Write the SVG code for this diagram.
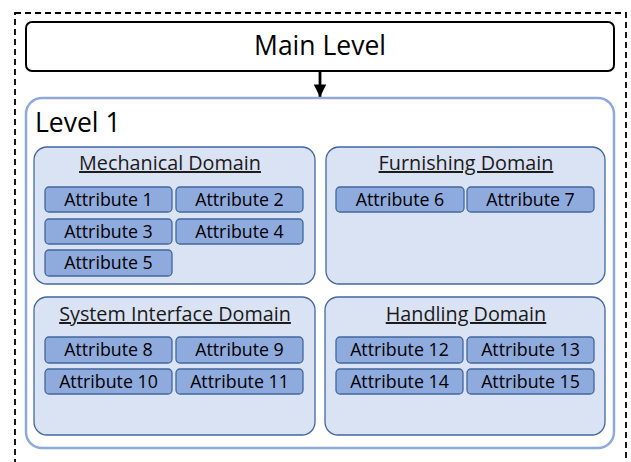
<svg xmlns="http://www.w3.org/2000/svg" width="631" height="462" viewBox="0 0 631 462">
<style>
text{font-family:"Open Sans","Liberation Sans",sans-serif;fill:#000}
.dom{fill:#dae3f3;stroke:#41679f;stroke-width:1.3}
.att{fill:#8faadc;stroke:#41679f;stroke-width:1.3}
.at{font-size:17.8px;text-anchor:middle}
.dt{font-size:19.8px;text-anchor:middle;text-decoration:underline;fill:#1a1a1a}
</style>
<defs>
<marker id="ah" viewBox="0 0 10 10" refX="10" refY="5" markerWidth="4.5" markerHeight="4.5" orient="auto" markerUnits="strokeWidth">
<path d="M0,0 L10,5 L0,10 z" fill="#000"/>
</marker>
</defs>
<rect x="15" y="13" width="611" height="470" fill="none" stroke="#000" stroke-width="1.8" stroke-dasharray="6,4"/>
<g id="main">
<rect x="26" y="22" width="588" height="49" rx="6" fill="#fff" stroke="#000" stroke-width="2"/>
<text x="320" y="55" font-size="26.5" text-anchor="middle">Main Level</text>
</g>
<g id="connectors">
<line x1="320" y1="71" x2="320" y2="97" stroke="#000" stroke-width="2.8" marker-end="url(#ah)"/>
</g>
<g id="level1">
<rect x="26" y="98" width="588" height="350" rx="16" fill="#fff" stroke="#8eaadb" stroke-width="2.5"/>
<text x="35" y="132" font-size="26.5">Level 1</text>
</g>
<g id="mech">
<rect class="dom" x="34" y="147" width="281" height="137" rx="13"/>
<text class="dt" x="170" y="170">Mechanical Domain</text>
</g>
<g id="a1"><rect class="att" x="45" y="187" width="127" height="25" rx="4"/><text class="at" x="108.5" y="206">Attribute 1</text></g>
<g id="a2"><rect class="att" x="176" y="187" width="127" height="25" rx="4"/><text class="at" x="239.5" y="206">Attribute 2</text></g>
<g id="a3"><rect class="att" x="45" y="219" width="127" height="25" rx="4"/><text class="at" x="108.5" y="238">Attribute 3</text></g>
<g id="a4"><rect class="att" x="176" y="219" width="127" height="25" rx="4"/><text class="at" x="239.5" y="238">Attribute 4</text></g>
<g id="a5"><rect class="att" x="45" y="250" width="127" height="26" rx="4"/><text class="at" x="108.5" y="269">Attribute 5</text></g>
<g id="furn">
<rect class="dom" x="326" y="147" width="279" height="137" rx="13"/>
<text class="dt" x="466" y="170">Furnishing Domain</text>
</g>
<g id="a6"><rect class="att" x="336" y="187" width="128" height="25" rx="4"/><text class="at" x="400" y="206">Attribute 6</text></g>
<g id="a7"><rect class="att" x="467" y="187" width="127" height="25" rx="4"/><text class="at" x="530.5" y="206">Attribute 7</text></g>
<g id="sys">
<rect class="dom" x="34" y="297" width="281" height="138" rx="13"/>
<text class="dt" x="175" y="321">System Interface Domain</text>
</g>
<g id="a8"><rect class="att" x="45" y="337" width="127" height="26" rx="4"/><text class="at" x="108.5" y="356">Attribute 8</text></g>
<g id="a9"><rect class="att" x="176" y="337" width="127" height="26" rx="4"/><text class="at" x="239.5" y="356">Attribute 9</text></g>
<g id="a10"><rect class="att" x="45" y="369" width="127" height="25" rx="4"/><text class="at" x="108.5" y="388">Attribute 10</text></g>
<g id="a11"><rect class="att" x="176" y="369" width="127" height="25" rx="4"/><text class="at" x="239.5" y="388">Attribute 11</text></g>
<g id="hand">
<rect class="dom" x="325" y="297" width="280" height="138" rx="13"/>
<text class="dt" x="466" y="321">Handling Domain</text>
</g>
<g id="a12"><rect class="att" x="336" y="337" width="127" height="26" rx="4"/><text class="at" x="399.5" y="356">Attribute 12</text></g>
<g id="a13"><rect class="att" x="467" y="337" width="127" height="26" rx="4"/><text class="at" x="530.5" y="356">Attribute 13</text></g>
<g id="a14"><rect class="att" x="336" y="369" width="127" height="25" rx="4"/><text class="at" x="399.5" y="388">Attribute 14</text></g>
<g id="a15"><rect class="att" x="467" y="369" width="127" height="25" rx="4"/><text class="at" x="530.5" y="388">Attribute 15</text></g>
</svg>
